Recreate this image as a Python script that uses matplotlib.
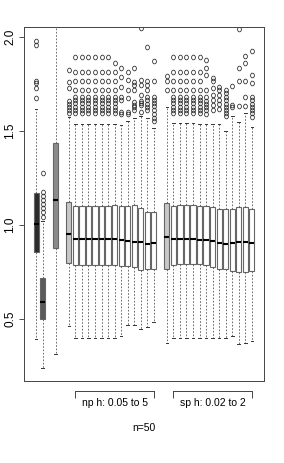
import matplotlib
matplotlib.use("Agg")
import matplotlib.pyplot as plt
from matplotlib.path import Path

plt.rcParams['font.family'] = ['Liberation Sans', 'DejaVu Sans']

# ---- donnees ----
positions = [1, 2, 4] + list(range(6, 20)) + list(range(21, 35))

q1 = [0.855, 0.50, 0.876,
      0.796, 0.787, 0.787, 0.787, 0.787, 0.789, 0.789, 0.789, 0.784, 0.78, 0.775, 0.761, 0.768, 0.768,
      0.768, 0.789, 0.793, 0.793, 0.793, 0.792, 0.787, 0.775, 0.764, 0.768, 0.754, 0.75, 0.75, 0.757]
med = [1.005, 0.59, 1.135,
       0.95, 0.924, 0.924, 0.924, 0.924, 0.924, 0.924, 0.926, 0.92, 0.915, 0.91, 0.91, 0.90, 0.904,
       0.938, 0.924, 0.926, 0.926, 0.926, 0.922, 0.922, 0.917, 0.903, 0.897, 0.903, 0.91, 0.908, 0.904]
q3 = [1.172, 0.718, 1.435,
      1.12, 1.103, 1.103, 1.103, 1.103, 1.103, 1.103, 1.106, 1.099, 1.099, 1.106, 1.089, 1.069, 1.069,
      1.115, 1.103, 1.104, 1.104, 1.104, 1.101, 1.101, 1.094, 1.087, 1.087, 1.083, 1.094, 1.094, 1.083]
whis_bas = [0.394, 0.241, 0.314,
            0.46, 0.40, 0.40, 0.40, 0.40, 0.40, 0.40, 0.40, 0.41, 0.467, 0.47, 0.445, 0.456, 0.482,
            0.374, 0.40, 0.40, 0.40, 0.40, 0.40, 0.40, 0.40, 0.40, 0.398, 0.41, 0.367, 0.37, 0.385]
whis_haut = [1.617, 1.02, 2.40,
             1.573, 1.535, 1.535, 1.535, 1.535, 1.535, 1.535, 1.535, 1.53, 1.555, 1.57, 1.58, 1.57, 1.516,
             1.63, 1.544, 1.544, 1.544, 1.544, 1.537, 1.537, 1.535, 1.537, 1.502, 1.58, 1.55, 1.597, 1.52]

ligne_np = [1.895, 1.815, 1.766, 1.718, 1.679, 1.665, 1.647, 1.63, 1.612, 1.594]
aberrants = [
    [1.674, 1.727, 1.754, 1.768, 1.957, 1.98],
    [1.044, 1.071, 1.092, 1.113, 1.135, 1.156, 1.177, 1.278],
    [],
    # np
    [1.824, 1.762, 1.727, 1.66, 1.644, 1.629, 1.612, 1.594],
    ligne_np, ligne_np, ligne_np, ligne_np, ligne_np, ligne_np,
    [1.863, 1.815, 1.766, 1.718, 1.679, 1.665, 1.647, 1.63, 1.612, 1.594],
    [1.833, 1.789, 1.732, 1.68, 1.665, 1.60, 1.59],
    [1.815, 1.77, 1.72, 1.675, 1.60, 1.59],
    [1.833, 1.762, 1.745, 1.718, 1.655, 1.64, 1.625, 1.61],
    [2.05, 1.77, 1.745, 1.69, 1.66, 1.65, 1.64, 1.60],
    [1.945, 1.766, 1.745, 1.718, 1.68, 1.665, 1.645, 1.63, 1.61],
    [1.874, 1.766, 1.68, 1.665, 1.65, 1.635, 1.61, 1.59, 1.57, 1.555],
    # sp
    [1.72, 1.766, 1.79],
    ligne_np, ligne_np, ligne_np, ligne_np, ligne_np,
    [1.878, 1.833, 1.798, 1.718, 1.68, 1.66, 1.645, 1.63, 1.612, 1.59],
    [1.78, 1.766, 1.73, 1.69, 1.665, 1.64, 1.612],
    [1.736, 1.718, 1.69, 1.665, 1.645, 1.615],
    [1.718, 1.70, 1.68, 1.665, 1.645, 1.63, 1.612, 1.594, 1.577],
    [1.739, 1.64, 1.628],
    [2.04, 1.833, 1.766, 1.635],
    [1.90, 1.86, 1.766, 1.68, 1.635],
    [1.927, 1.80, 1.755, 1.68, 1.665, 1.645, 1.63, 1.612, 1.594, 1.575],
]

couleurs = ['#2b2b2b', '#5a5a5a', '#8c8c8c'] + ['#c8c8c8'] + ['white'] * 13 + ['#c8c8c8'] + ['white'] * 13

groupes = ["np h: 0.05 to 5", "sp h: 0.02 to 2"]
bornes_groupes = [(7, 19), (22, 34)]
y_ticks = [0.5, 1.0, 1.5, 2.0]
titre_x = "n=50"

# ---- figure ----
fig = plt.figure(figsize=(2.84, 4.63), dpi=100)
ax = fig.add_axes([24 / 284, 1 - 381 / 463, 240 / 284, 354 / 463])

stats = [dict(med=m, q1=a, q3=b, whislo=lo, whishi=hi, fliers=f)
         for m, a, b, lo, hi, f in zip(med, q1, q3, whis_bas, whis_haut, aberrants)]

circ = Path.unit_circle()
ovale = Path(circ.vertices * [0.8, 1.0], circ.codes)

bp = ax.bxp(stats, positions=positions, widths=0.8, capwidths=0.4, patch_artist=True,
            boxprops=dict(edgecolor='#666666', linewidth=0.8),
            whiskerprops=dict(color='#555555', linewidth=0.6, linestyle=(0, (2, 2))),
            capprops=dict(color='#333333', linewidth=0.7),
            medianprops=dict(color='black', linewidth=1.5),
            flierprops=dict(marker=ovale, markersize=3.4, markerfacecolor='none',
                            markeredgecolor='#222222', markeredgewidth=0.55))
for boite, c in zip(bp['boxes'], couleurs):
    boite.set_facecolor(c)

ax.set_xlim(-0.86, 35.86)
ax.set_ylim(0.17, 2.053)
ax.set_xticks([])
ax.set_yticks(y_ticks)
ax.set_yticklabels(["%.1f" % v for v in y_ticks], rotation=90, va='center', fontsize=8.5)
ax.tick_params(axis='y', length=3.6, width=0.6, pad=2, color='#333333')
for s in ax.spines.values():
    s.set_linewidth(0.7)
    s.set_color('#444444')
ax.set_xlabel(titre_x, fontsize=7.5, labelpad=30)

# axes des groupes sous le cadre
for (g0, g1), nom in zip(bornes_groupes, groupes):
    sec = ax.secondary_xaxis(-0.028)
    sec.set_ticks([g0, g1], labels=['', ''])
    sec.set_ticks([(g0 + g1) / 2], labels=[nom], minor=True)
    sec.spines['bottom'].set_bounds(g0, g1)
    sec.spines['bottom'].set_linewidth(0.7)
    sec.spines['bottom'].set_color('#444444')
    sec.tick_params(which='major', length=5, width=0.7, color='#444444')
    sec.tick_params(which='minor', length=0, pad=5, labelsize=7.5)

fig.savefig("out.png", dpi=100)
